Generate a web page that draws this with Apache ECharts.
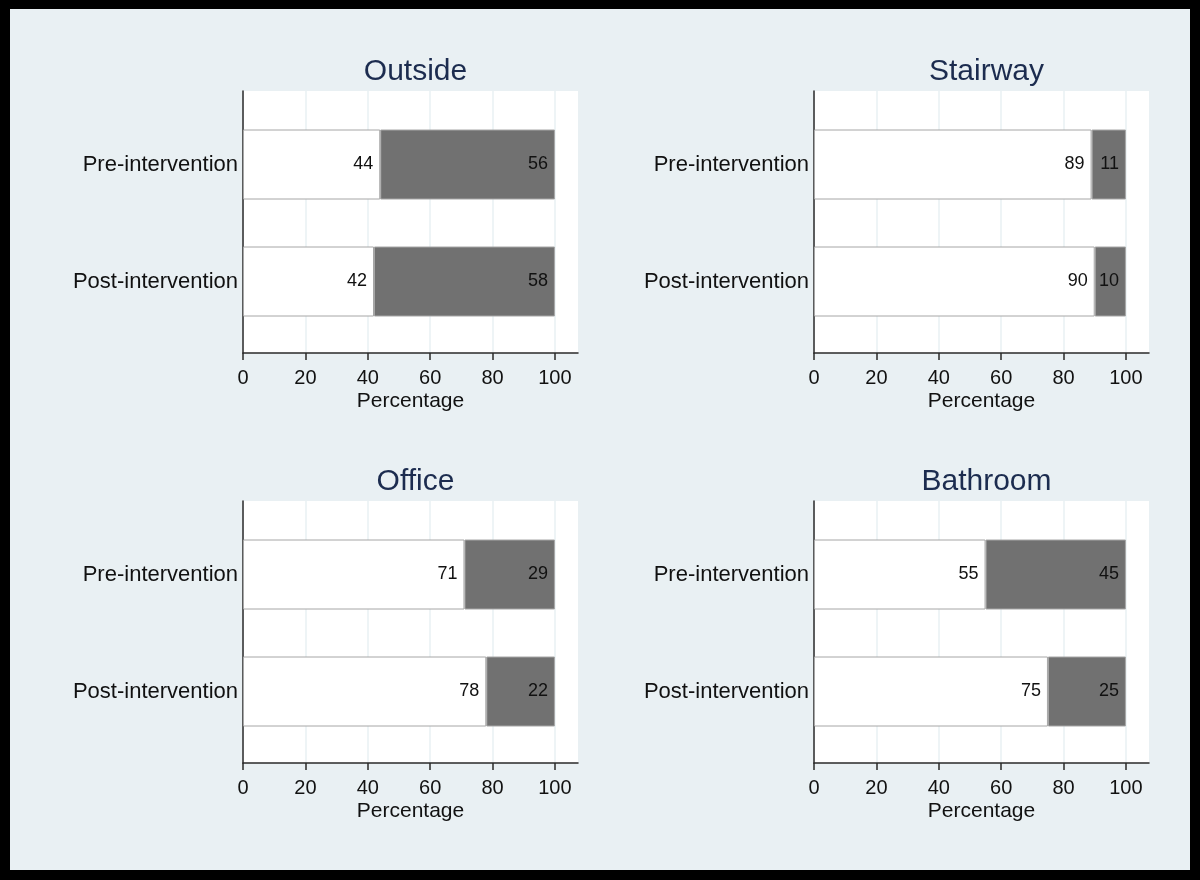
<!DOCTYPE html>
<html>
<head>
<meta charset="utf-8">
<script src="https://cdn.jsdelivr.net/npm/echarts@6/dist/echarts.min.js"></script>
<style>
html,body{margin:0;padding:0;background:#000;width:1200px;height:880px;overflow:hidden;}
#chart{position:absolute;left:10px;top:9px;width:1180px;height:861px;}
</style>
</head>
<body>
<div id="chart"></div>
<script>
const panelTitles = ['Outside', 'Stairway', 'Office', 'Bathroom'];
const categories = ['Pre-intervention', 'Post-intervention'];
const outsideWhite = [44, 42], outsideGray = [56, 58];
const stairwayWhite = [89, 90], stairwayGray = [11, 10];
const officeWhite = [71, 78], officeGray = [29, 22];
const bathroomWhite = [55, 75], bathroomGray = [45, 25];
const xTicks = [0, 20, 40, 60, 80, 100];
const xAxisName = 'Percentage';

const whiteData = [outsideWhite, stairwayWhite, officeWhite, bathroomWhite];
const grayData = [outsideGray, stairwayGray, officeGray, bathroomGray];

const FONT = 'Liberation Sans, Arial, sans-serif';
const lefts = [233, 804, 233, 804];
const tops = [82, 82, 492, 492];
const W = 335, H = 262;
const XMAX = 107.4;

const grid = [], xAxis = [], yAxis = [], series = [], title = [];
for (let i = 0; i < 4; i++) {
  grid.push({left: lefts[i], top: tops[i], width: W, height: H, show: true, backgroundColor: '#ffffff', borderWidth: 0});
  grid.push({left: lefts[i], top: tops[i] + 15, width: W, height: 234});
  const gf = 2 * i, gb = 2 * i + 1;
  xAxis.push({
    gridIndex: gf, type: 'value', min: 0, max: XMAX,
    axisLine: {show: true, lineStyle: {color: '#2a2a2a', width: 1.5}},
    axisTick: {show: true, customValues: xTicks, length: 7, lineStyle: {color: '#2a2a2a', width: 1.5}},
    axisLabel: {show: true, customValues: xTicks, fontSize: 20, margin: 15, color: '#111', fontFamily: FONT},
    splitLine: {show: true, lineStyle: {color: '#e9f0f3', width: 1.5}},
    name: xAxisName, nameLocation: 'middle', nameGap: 38,
    nameTextStyle: {fontSize: 21, color: '#111', fontFamily: FONT}
  });
  yAxis.push({
    gridIndex: gf, type: 'value', min: 0, max: 1,
    axisLine: {show: true, lineStyle: {color: '#2a2a2a', width: 1.5}},
    axisTick: {show: false}, axisLabel: {show: false}, splitLine: {show: false}
  });
  xAxis.push({gridIndex: gb, type: 'value', min: 0, max: XMAX, show: false});
  yAxis.push({
    gridIndex: gb, type: 'category', data: categories, inverse: true,
    axisLine: {show: false}, axisTick: {show: false}, splitLine: {show: false},
    axisLabel: {fontSize: 22, margin: 5, color: '#111', fontFamily: FONT}
  });
  const lbl = {show: true, position: 'insideRight', distance: 7, fontSize: 18, color: '#111', fontFamily: FONT};
  series.push({
    type: 'bar', xAxisIndex: gb, yAxisIndex: gb, stack: 's' + i, barWidth: 70,
    data: whiteData[i], itemStyle: {color: '#ffffff', borderColor: '#a6a6a6', borderWidth: 1},
    label: lbl, silent: true
  });
  series.push({
    type: 'bar', xAxisIndex: gb, yAxisIndex: gb, stack: 's' + i, barWidth: 70,
    data: grayData[i], itemStyle: {color: '#717171', borderColor: '#a6a6a6', borderWidth: 1},
    label: lbl, silent: true
  });
  title.push({
    text: panelTitles[i], left: lefts[i] + W / 2, top: tops[i] - 39, textAlign: 'center',
    textStyle: {fontSize: 30, fontWeight: 'normal', color: '#1c2c4f', fontFamily: FONT}
  });
}

const chart = echarts.init(document.getElementById('chart'), null, {renderer: 'canvas'});
chart.setOption({
  backgroundColor: '#e9f0f3',
  animation: false,
  title: title,
  grid: grid,
  xAxis: xAxis,
  yAxis: yAxis,
  series: series
});
</script>
</body>
</html>
